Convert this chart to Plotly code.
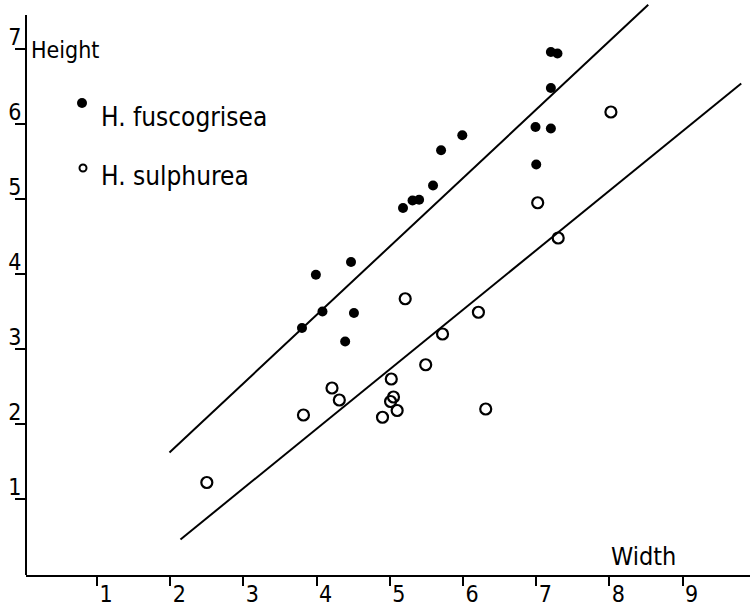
import plotly.graph_objects as go

# ---- data ----
fusco_width = [3.80, 3.99, 4.08, 4.39, 4.47, 4.51, 5.18, 5.31, 5.40, 5.59, 5.70, 5.99,
               6.99, 7.20, 7.00, 7.20, 7.20, 7.29]
fusco_height = [3.28, 3.99, 3.50, 3.10, 4.16, 3.48, 4.88, 4.98, 4.99, 5.18, 5.65, 5.85,
                5.96, 5.94, 5.46, 6.48, 6.96, 6.94]

sulph_width = [2.50, 3.82, 4.21, 4.31, 4.90, 5.01, 5.05, 5.10, 5.02, 5.21, 5.49, 5.72,
               6.21, 6.31, 7.02, 7.30, 8.02]
sulph_height = [1.22, 2.12, 2.48, 2.32, 2.09, 2.30, 2.36, 2.18, 2.60, 3.67, 2.79, 3.20,
                3.49, 2.20, 4.95, 4.48, 6.16]

fusco_line_x = [1.99, 8.53]
fusco_line_y = [1.62, 7.59]
sulph_line_x = [2.14, 9.80]
sulph_line_y = [0.46, 6.54]

x_ticks = [1, 2, 3, 4, 5, 6, 7, 8, 9]
y_ticks = [1, 2, 3, 4, 5, 6, 7]
series_names = ["H. fuscogrisea", "H. sulphurea"]
x_title = "Width"
y_title = "Height"

FONT = "DejaVu Sans Condensed, Liberation Sans Narrow, DejaVu Sans, sans-serif"

fig = go.Figure()

fig.add_trace(go.Scatter(x=fusco_line_x, y=fusco_line_y, mode="lines",
                         line=dict(color="black", width=2), showlegend=False, hoverinfo="skip"))
fig.add_trace(go.Scatter(x=sulph_line_x, y=sulph_line_y, mode="lines",
                         line=dict(color="black", width=2), showlegend=False, hoverinfo="skip"))

fig.add_trace(go.Scatter(x=fusco_width, y=fusco_height, mode="markers", name=series_names[0],
                         marker=dict(symbol="circle", size=10, color="black",
                                     line=dict(width=0)), showlegend=False))
fig.add_trace(go.Scatter(x=sulph_width, y=sulph_height, mode="markers", name=series_names[1],
                         marker=dict(symbol="circle-open", size=11, color="black",
                                     line=dict(width=2.2, color="black")), showlegend=False))

# plot-area geometry (pixels): left 26, right 750, top 3, bottom 575
L, R, T, B = 26, 750, 3, 575
W, H = R - L, B - T


def px(x):
    return (x - L) / W


def py(y):
    return (B - y) / H


shapes = [
    # y-axis line
    dict(type="line", xref="paper", yref="paper", x0=0, x1=0, y0=0, y1=py(15),
         line=dict(color="black", width=2)),
    # legend symbols
    dict(type="circle", xref="paper", yref="paper", xsizemode="pixel", ysizemode="pixel",
         xanchor=px(82), yanchor=py(103), x0=-5, x1=5, y0=-5, y1=5,
         fillcolor="black", line=dict(color="black", width=0)),
    dict(type="circle", xref="paper", yref="paper", xsizemode="pixel", ysizemode="pixel",
         xanchor=px(83), yanchor=py(168), x0=-3.5, x1=3.5, y0=-3.5, y1=3.5,
         fillcolor="white", line=dict(color="black", width=2)),
]

annotations = [
    dict(text=y_title, xref="paper", yref="paper", x=px(29), y=py(50), xanchor="left",
         yanchor="middle", showarrow=False, font=dict(size=23, color="black", family=FONT)),
    dict(text=x_title, xref="paper", yref="paper", x=px(643), y=py(556), xanchor="center",
         yanchor="middle", showarrow=False, font=dict(size=25, color="black", family=FONT)),
    dict(text=series_names[0], xref="paper", yref="paper", x=px(99), y=py(117), xanchor="left",
         yanchor="middle", showarrow=False, font=dict(size=26, color="black", family=FONT)),
    dict(text=series_names[1], xref="paper", yref="paper", x=px(99), y=py(176), xanchor="left",
         yanchor="middle", showarrow=False, font=dict(size=26, color="black", family=FONT)),
]

fig.update_layout(
    width=750, height=606,
    margin=dict(l=L, r=750 - R, t=T, b=606 - B, pad=0),
    paper_bgcolor="white", plot_bgcolor="white",
    showlegend=False,
    shapes=shapes, annotations=annotations,
    font=dict(family=FONT, color="black"),
    xaxis=dict(range=[0.03, 9.92], tickvals=x_ticks, ticktext=[str(v) for v in x_ticks],
               ticks="outside", ticklen=9, tickwidth=1.5, tickcolor="black",
               showline=True, linewidth=2, linecolor="black",
               showgrid=False, zeroline=False,
               ticklabelshift=9, ticklabelstandoff=-12,
               tickfont=dict(size=23, color="black", family=FONT)),
    yaxis=dict(range=[(574 - 575) / 75, (574 - 3) / 75], tickvals=y_ticks,
               ticktext=[str(v) for v in y_ticks],
               ticks="outside", ticklen=10, tickwidth=1.5, tickcolor="black",
               showline=False, showgrid=False, zeroline=False,
               ticklabelshift=-12, ticklabelstandoff=-11,
               tickfont=dict(size=23, color="black", family=FONT)),
)

fig.write_html("out.html")
